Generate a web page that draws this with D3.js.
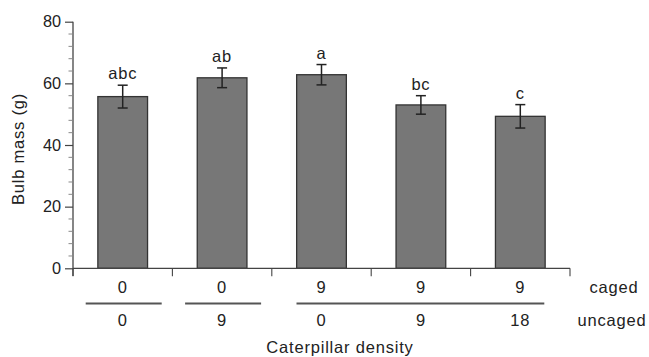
<!DOCTYPE html>
<html><head><meta charset="utf-8">
<script src="https://cdn.jsdelivr.net/npm/d3@7"></script>
<style>
body{margin:0;background:#fff;}
text{font-family:"Liberation Sans",Arial,Helvetica,sans-serif;fill:#222;}
.lbl{font-size:16.5px;letter-spacing:0.8px;}
</style></head>
<body><svg id="c" width="649" height="357"></svg>
<script>
const categories = ["0/0","0/9","9/0","9/9","9/18"];
const cagedLabels = ["0","0","9","9","9"];
const uncagedLabels = ["0","9","0","9","18"];
const means = [55.7, 61.8, 62.8, 53.0, 49.3];
const errors = [3.7, 3.2, 3.3, 3.0, 3.8];
const letters = ["abc","ab","a","bc","c"];
const yTicks = [0,20,40,60,80];
const groups = [[0,0],[1,1],[2,4]];

const svg = d3.select("#c");
const axisColor = "#444";
const x = d3.scaleBand().domain(categories).range([73,570]).paddingInner(0.5).paddingOuter(0.25);
const y = d3.scaleLinear().domain([0,80]).range([268.3,21.7]);
const bandStart = i => 73 + i*(497/5);

// bars
svg.selectAll("rect.bar").data(categories).enter().append("rect")
  .attr("x", d=>x(d)).attr("width", x.bandwidth())
  .attr("y", (d,i)=>y(means[i])).attr("height",(d,i)=>y(0)-y(means[i]))
  .attr("fill","#777").attr("stroke","#333").attr("stroke-width",1.3);

// error bars
const cx = d=>x(d)+x.bandwidth()/2;
const eb = svg.append("g").attr("stroke","#222").attr("stroke-width",1.5);
categories.forEach((d,i)=>{
  const c = cx(d), t=y(means[i]+errors[i]), b=y(means[i]-errors[i]);
  eb.append("line").attr("x1",c).attr("x2",c).attr("y1",t).attr("y2",b);
  eb.append("line").attr("x1",c-5).attr("x2",c+5).attr("y1",t).attr("y2",t);
  eb.append("line").attr("x1",c-5).attr("x2",c+5).attr("y1",b).attr("y2",b);
  svg.append("text").attr("class","lbl").attr("x",c).attr("y",t-6).attr("text-anchor","middle")
    .text(letters[i]);
});

// y axis
const ya = svg.append("g").attr("transform","translate(73,0)")
  .call(d3.axisLeft(y).tickValues(yTicks).tickSize(8).tickPadding(4).tickSizeOuter(0));
ya.select(".domain").attr("stroke",axisColor).attr("stroke-width",1.3).attr("d","M0,21.7V276");
ya.selectAll(".tick line").attr("stroke",axisColor).attr("stroke-width",1.2);
ya.selectAll(".tick text").attr("font-size",16.3).attr("font-family","Liberation Sans, Arial, sans-serif").attr("fill","#222");
const minor = d3.range(0,81,4).filter(v=>v%20!==0);
svg.append("g").selectAll("line").data(minor).enter().append("line")
  .attr("x1",68.5).attr("x2",73).attr("y1",d=>y(d)).attr("y2",d=>y(d))
  .attr("stroke","#888").attr("stroke-width",1);

// x axis line and boundary ticks
const xa = svg.append("g").attr("stroke",axisColor).attr("stroke-width",1.3);
xa.append("line").attr("x1",73).attr("x2",570).attr("y1",y(0)).attr("y2",y(0));
d3.range(6).forEach(i=>{
  const bx = bandStart(i);
  xa.append("line").attr("x1",bx).attr("x2",bx).attr("y1",y(0)).attr("y2",y(0)+8).attr("stroke-width",1.1);
});

// row labels
categories.forEach((d,i)=>{
  svg.append("text").attr("class","lbl").attr("x",cx(d)).attr("y",292.5).attr("text-anchor","middle").text(cagedLabels[i]);
  svg.append("text").attr("class","lbl").attr("x",cx(d)).attr("y",326).attr("text-anchor","middle").text(uncagedLabels[i]);
});
// group lines
groups.forEach(([a,b])=>{
  const x1 = a===b ? cx(categories[a])-37 : cx(categories[a])-25;
  const x2 = a===b ? cx(categories[b])+39 : cx(categories[b])+24;
  svg.append("line").attr("x1",x1).attr("x2",x2).attr("y1",303.5).attr("y2",303.5)
    .attr("stroke","#555").attr("stroke-width",1.8);
});
svg.append("text").attr("class","lbl").attr("x",614).attr("y",292.5).attr("text-anchor","middle").text("caged");
svg.append("text").attr("class","lbl").attr("x",612).attr("y",326).attr("text-anchor","middle").text("uncaged");
svg.append("text").attr("class","lbl").attr("x",340).attr("y",353).attr("text-anchor","middle").text("Caterpillar density");
svg.append("text").attr("class","lbl").attr("transform","translate(24,149) rotate(-90)").attr("text-anchor","middle").text("Bulb mass (g)");
</script></body></html>
